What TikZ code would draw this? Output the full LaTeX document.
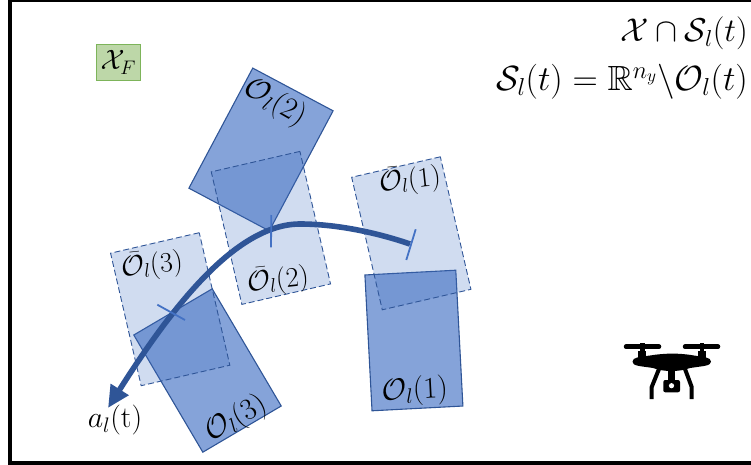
\RequirePackage{fix-cm}
\documentclass[tikz,border=0pt]{standalone}
\usepackage{amsmath,amssymb}
\usepackage{tikz}
\usetikzlibrary{arrows.meta, positioning}
\definecolor{obsblue}{RGB}{68,114,196}
\definecolor{obsedge}{RGB}{47,85,151}
\definecolor{safegreen}{RGB}{189,215,168}
\definecolor{safeedge}{RGB}{125,180,90}

\begin{document}
\begin{tikzpicture}[
  x=1pt, y=-1pt,
  obs/.style={rectangle, draw=obsedge, line width=1.1pt, fill=obsblue, fill opacity=0.65, minimum width=91pt, minimum height=136pt, inner sep=0pt, outer sep=0pt},
  obsbar/.style={rectangle, draw=obsedge, line width=0.9pt, dash pattern=on 6pt off 3pt, fill=obsblue, fill opacity=0.25, minimum width=91pt, minimum height=136pt, inner sep=0pt, outer sep=0pt},
  lab/.style={font=\fontsize{30}{36}\selectfont, inner sep=0pt},
  labbar/.style={font=\fontsize{28}{34}\selectfont, inner sep=0pt, rotate=6},
  eqn/.style={inner sep=0pt, anchor=east},
  tick/.style={draw=obsblue, line width=1.8pt},
  rotor/.style={line width=4.5pt, line cap=round}
]
\useasboundingbox (0,0) rectangle (751,465);

% Frame
\draw[line width=4pt] (10,-3) -- (10,463) -- (760,463);
\draw[line width=3pt] (8,1) -- (760,1);

% Obstacles
\node[obs, rotate=-28] (o2) at (261,149.5) {};
\node[obs, rotate=3] (o1) at (413.9,340.5) {};
\node[obs, rotate=30.5] (o3) at (207.5,370.5) {};

% Predicted obstacles
\node[obsbar, rotate=13] (obar2) at (270.9,227.9) {};
\node[obsbar, rotate=13] (obar1) at (411.3,233.3) {};
\node[obsbar, rotate=13] (obar3) at (170.2,309.2) {};

% Labels
\node[lab, rotate=-30] (lo2) at (275,103) {$\mathcal{O}_l(2)$};
\node[lab, rotate=3] (lo1) at (415,391) {$\mathcal{O}_l(1)$};
\node[lab, rotate=30] (lo3) at (236,419) {$\mathcal{O}_l(3)$};
\node[labbar] (lbar2) at (278,280) {$\bar{\mathcal{O}}_l(2)$};
\node[labbar] (lbar1) at (410,180) {$\bar{\mathcal{O}}_l(1)$};
\node[labbar] (lbar3) at (152,265) {$\bar{\mathcal{O}}_l(3)$};
\node[lab] (lact) at (115,420) {$a_l(\mathrm{t})$};

% Feasible set and equations
\node[rectangle, draw=safeedge, line width=1pt, fill=safegreen, minimum width=44pt, minimum height=36pt, inner sep=0pt, font=\fontsize{28}{33}\selectfont] (xf) at (118.3,62.5) {$\mathcal{X}_F$};
\node[eqn, font=\fontsize{33}{40}\selectfont] (eq1) at (748,33) {$\mathcal{X}\cap\mathcal{S}_l(t)$};
\node[eqn, font=\fontsize{35}{42}\selectfont] (eq2) at (748,82) {$\mathcal{S}_l(t)=\mathbb{R}^{n_y}\backslash\mathcal{O}_l(t)$};

% Trajectory
\coordinate (tstart) at (410,244);
\coordinate (tmid) at (300,224);
\coordinate (ttip) at (108,408);
\draw[obsedge, line width=5.6pt, -{Triangle[length=22pt,width=20pt]}] (tstart) .. controls (375,232) and (335,224) .. (tmid) .. controls (235,224) and (170,310) .. (ttip);

% Ticks
\coordinate (ta1) at (415.7,229.3);
\coordinate (tb1) at (406.3,260);
\coordinate (ta2) at (271.3,215);
\coordinate (tb2) at (271,247.3);
\coordinate (ta3) at (157.3,304.7);
\coordinate (tb3) at (185,320);
\draw[tick] (ta1) -- (tb1);
\draw[tick] (ta2) -- (tb2);
\draw[tick] (ta3) -- (tb3);

% Drone
\draw[rotor] (626,346.7) -- (659,346.7);
\draw[rotor] (685,346.7) -- (718,346.7);
\fill (640,343) rectangle (644.5,352);
\fill (699.5,343) rectangle (704,352);
\fill (638,351) rectangle (646,358);
\fill (698,351) rectangle (706,358);
\fill (632.5,361.7) .. controls (632.5,357) and (640,357) .. (650,355.5) .. controls (665,353) and (680,353) .. (694,355.5) .. controls (703,357) and (711,357) .. (711,361.7) .. controls (711,366) and (703,366) .. (690,368) .. controls (680,372) and (663,372) .. (653,368) .. controls (640,366) and (632.5,366) .. cycle;
\draw[line width=4pt] (659,369) -- (651.7,387) -- (651.7,399);
\draw[line width=4pt] (685,369) -- (691.7,387) -- (691.7,399);
\fill (668,368) rectangle (675,381);
\fill[rounded corners=2pt] (663.3,380) rectangle (680,392.3);
\fill[white] (671.5,385.7) circle (2.6pt);
\end{tikzpicture}
\end{document}
